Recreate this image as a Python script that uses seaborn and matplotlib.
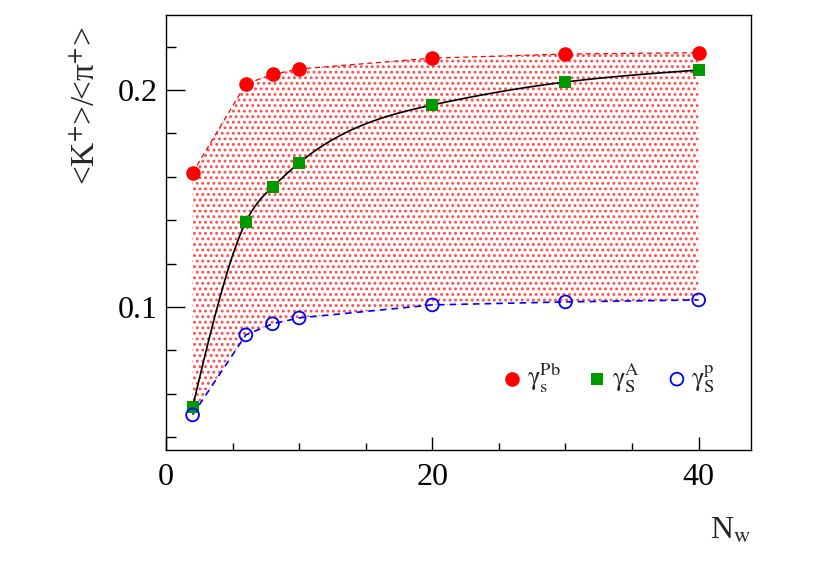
import numpy as np
import pandas as pd
import matplotlib
matplotlib.use("Agg")
import matplotlib.pyplot as plt
import seaborn as sns
from matplotlib.ticker import MultipleLocator, FuncFormatter

# values
n_w = [2, 6, 8, 10, 20, 30, 40]
ratio_pb = [0.1618, 0.2028, 0.2072, 0.2097, 0.2147, 0.2166, 0.2172]
ratio_a = [0.0539, 0.1392, 0.1553, 0.1664, 0.1931, 0.2037, 0.2092]
ratio_p = [0.0502, 0.0871, 0.0922, 0.0949, 0.1009, 0.1023, 0.1032]

labels = [r"$\mathrm{\gamma}_\mathrm{s}^\mathrm{Pb}$",
          r"$\mathrm{\gamma}_\mathrm{S}^\mathrm{A}$",
          r"$\mathrm{\gamma}_\mathrm{S}^\mathrm{p}$"]


def smooth_curve(x, y, n=300):
    """Natural cubic spline through the points (like ROOT's 'C' draw option)."""
    x = np.asarray(x, float)
    y = np.asarray(y, float)
    h = np.diff(x)
    m = len(x)
    A = np.zeros((m, m))
    b = np.zeros(m)
    A[0, 0] = A[-1, -1] = 1.0
    for i in range(1, m - 1):
        A[i, i - 1] = h[i - 1]
        A[i, i] = 2 * (h[i - 1] + h[i])
        A[i, i + 1] = h[i]
        b[i] = 6 * ((y[i + 1] - y[i]) / h[i] - (y[i] - y[i - 1]) / h[i - 1])
    M = np.linalg.solve(A, b)
    xs = np.linspace(x[0], x[-1], n)
    idx = np.clip(np.searchsorted(x, xs) - 1, 0, m - 2)
    x0, x1 = x[idx], x[idx + 1]
    hh = x1 - x0
    t0, t1 = x1 - xs, xs - x0
    ys = (M[idx] * t0**3 + M[idx + 1] * t1**3) / (6 * hh) \
        + (y[idx] / hh - M[idx] * hh / 6) * t0 \
        + (y[idx + 1] / hh - M[idx + 1] * hh / 6) * t1
    return xs, ys


df = pd.DataFrame({"n_w": n_w, "pb": ratio_pb, "a": ratio_a, "p": ratio_p})

sns.set_theme(style="white")
plt.rcParams["font.family"] = ["Liberation Serif", "DejaVu Serif"]
plt.rcParams["mathtext.fontset"] = "stix"
plt.rcParams["hatch.linewidth"] = 1.3
plt.rcParams["hatch.color"] = "#ff4a4a"

fig = plt.figure(figsize=(8.34, 5.65), dpi=100)
ax = fig.add_axes([0.199, 0.2035, 0.701, 0.770])

# dotted band between the Pb and p curves
ax.fill_between(df["n_w"], df["p"], df["pb"], facecolor="none",
                edgecolor="#ff4a4a", hatch="...", linewidth=0, zorder=1)

sns.lineplot(data=df, x="n_w", y="pb", ax=ax, color="#ff0000", lw=0.9,
             linestyle=(0, (4, 3)), zorder=2)
sns.lineplot(data=df, x="n_w", y="p", ax=ax, color="#0000ff", lw=1.2,
             linestyle=(0, (4, 3)), zorder=2)

xs, ys = smooth_curve(n_w, ratio_a)
sns.lineplot(x=xs, y=ys, ax=ax, color="black", lw=1.2, zorder=3,
             sort=False, estimator=None)

sns.scatterplot(data=df, x="n_w", y="pb", ax=ax, color="#ff0000", s=110,
                marker="o", linewidth=0, zorder=4, label=labels[0])
sns.scatterplot(data=df, x="n_w", y="a", ax=ax, color="#009900", s=70,
                marker="s", linewidth=0, zorder=4, label=labels[1])
sns.scatterplot(data=df, x="n_w", y="p", ax=ax, facecolor="none",
                edgecolor="#0000ff", s=85, marker="o", linewidth=1.3,
                zorder=4, label=labels[2])

ax.set_xlim(0, 43.9)
ax.set_ylim(0.034, 0.2346)
ax.xaxis.set_major_locator(MultipleLocator(20))
ax.xaxis.set_minor_locator(MultipleLocator(5))
ax.yaxis.set_major_locator(MultipleLocator(0.1))
ax.yaxis.set_minor_locator(MultipleLocator(0.02))
ax.xaxis.set_major_formatter(FuncFormatter(lambda v, p: f"{v:g}"))
ax.yaxis.set_major_formatter(FuncFormatter(lambda v, p: f"{v:g}"))

ax.tick_params(axis="both", which="both", direction="in", colors="black",
               labelsize=23, width=1.0)
ax.tick_params(axis="y", which="major", length=14, pad=6)
ax.tick_params(axis="y", which="minor", length=7.5)
ax.tick_params(axis="x", which="major", length=9.5, pad=9)
ax.tick_params(axis="x", which="minor", length=5)
ax.tick_params(left=True, bottom=True, which="both")

for sp in ax.spines.values():
    sp.set_color("black")
    sp.set_linewidth(1.0)

ax.set_xlabel("")
ax.set_ylabel("")
fig.text(86 / 834, 1 - 26 / 565, r"<K$^{+}$>/<π$^{+}$>", rotation=90,
         ha="center", va="top", fontsize=24)
fig.text(731 / 834, 1 - 531 / 565, r"N$_\mathrm{w}$", ha="center",
         va="center", fontsize=23)

ax.legend(loc="center", bbox_to_anchor=(0.757, 0.165), ncol=3, frameon=False,
          fontsize=19, handlelength=0.8, handletextpad=0.15,
          columnspacing=1.0, borderpad=0)

fig.savefig("out.png", dpi=100)
plt.close(fig)
